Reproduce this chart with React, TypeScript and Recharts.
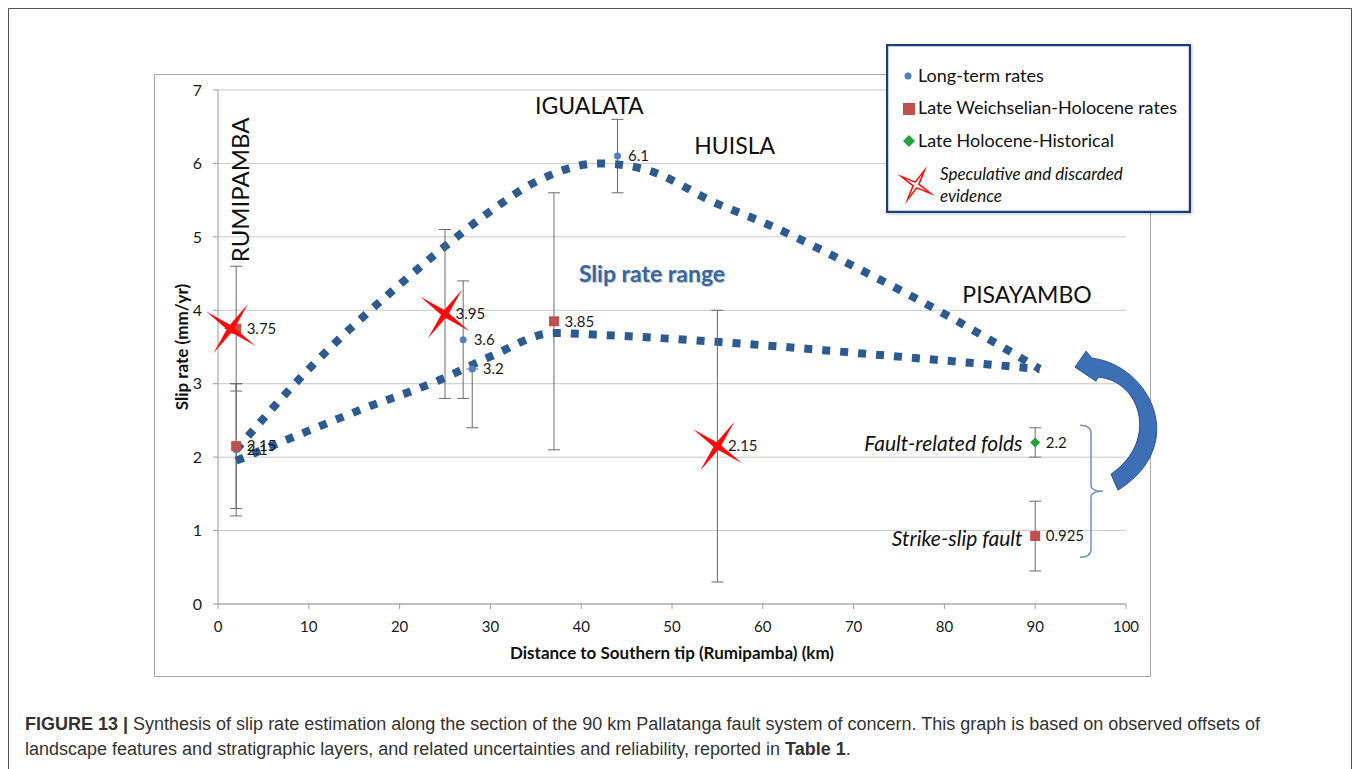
import React from 'react';
import {
  ComposedChart,
  Scatter,
  Line,
  XAxis,
  YAxis,
  CartesianGrid,
  ErrorBar,
  LabelList,
  ReferenceDot,
} from 'recharts';

// --- data --------------------------------------------------------------

const xTicks = [0, 10, 20, 30, 40, 50, 60, 70, 80, 90, 100];
const yTicks = [0, 1, 2, 3, 4, 5, 6, 7];

// Long-term rates (blue dots)
const longTermX = [2, 27, 28, 44];
const longTermY = [2.1, 3.6, 3.2, 6.1];
const longTermErr = [[0.9, 0.9], [0.8, 0.8], [0.8, 0], [0.5, 0.5]];
const longTermLabels = ['2.1', '3.6', '3.2', '6.1'];

// Late Weichselian-Holocene rates (red squares)
const weichselX = [2, 2, 37, 90];
const weichselY = [3.75, 2.15, 3.85, 0.925];
const weichselErr = [[0.85, 0.85], [0.85, 0.85], [1.75, 1.75], [0.475, 0.475]];
const weichselLabels = ['3.75', '2.15', '3.85', '0.925'];

// Late Holocene-Historical (green diamond)
const holoceneX = [90];
const holoceneY = [2.2];
const holoceneErr = [[0.2, 0.2]];
const holoceneLabels = ['2.2'];

// Speculative and discarded evidence (red stars)
const speculativeX = [1.4, 25, 55];
const speculativeY = [3.75, 3.95, 2.15];
const speculativeErr = [[0, 0], [1.15, 1.15], [1.85, 1.85]];
const speculativeLabels = ['', '3.95', '2.15'];

// Slip rate range envelope (dotted curves)
const upperX = [2, 10, 20, 25, 30, 35, 42, 47, 55, 60, 70, 80, 90.5];
const upperY = [2.1, 3.2, 4.35, 4.87, 5.35, 5.75, 6.0, 5.92, 5.45, 5.2, 4.6, 3.95, 3.2];
const lowerX = [2, 9.4, 15.6, 24.4, 30, 37, 43, 55, 73, 90.5];
const lowerY = [1.95, 2.33, 2.64, 3.05, 3.37, 3.69, 3.66, 3.57, 3.39, 3.2];

const toRows = (xs: number[], ys: number[], errs?: number[][], labels?: string[]) =>
  xs.map((x, i) => ({ x, y: ys[i], err: errs ? errs[i] : undefined, label: labels ? labels[i] : '' }));

const longTermRows = toRows(longTermX, longTermY, longTermErr, longTermLabels);
const weichselRows = toRows(weichselX, weichselY, weichselErr, weichselLabels);
const holoceneRows = toRows(holoceneX, holoceneY, holoceneErr, holoceneLabels);
const speculativeRows = toRows(speculativeX, speculativeY, speculativeErr, speculativeLabels);
const upperRows = toRows(upperX, upperY);
const lowerRows = toRows(lowerX, lowerY);

// --- styling -------------------------------------------------------------

const FONT = 'Lato, "Open Sans", sans-serif';
const CURVE = '#2d5b91';
const BLUE = '#4f81bd';
const RED = '#c0504d';
const GREEN = '#1fa33a';
const ERR = '#6b6b6b';

const labelStyle = { fontSize: 15, fill: '#1a1a1a', fontFamily: FONT };

const starPoints = (cx: number, cy: number, R: number, r: number, rot: number) => {
  const pts: string[] = [];
  for (let i = 0; i < 8; i++) {
    const a = ((rot + i * 45) * Math.PI) / 180;
    const rad = i % 2 === 0 ? R : r;
    pts.push(`${cx + rad * Math.cos(a)},${cy + rad * Math.sin(a)}`);
  }
  return pts.join(' ');
};

const Circle = (p: any) => <circle cx={p.cx} cy={p.cy} r={3.5} fill={BLUE} />;
const Square = (p: any) => <rect x={p.cx - 5} y={p.cy - 5} width={10} height={10} fill={RED} />;
const Diamond = (p: any) => (
  <polygon points={`${p.cx},${p.cy - 5} ${p.cx + 5},${p.cy} ${p.cx},${p.cy + 5} ${p.cx - 5},${p.cy}`} fill={GREEN} />
);
const Star = (p: any) => <polygon points={starPoints(p.cx, p.cy, 30, 4, 35)} fill="#ff0a0a" />;

const note = (text: string, style: React.CSSProperties, anchor = 'middle', rotate = 0) => (p: any) => (
  <text
    x={p.cx}
    y={p.cy}
    textAnchor={anchor as any}
    dominantBaseline="central"
    transform={rotate ? `rotate(${rotate} ${p.cx} ${p.cy})` : undefined}
    style={{ fontFamily: FONT, fill: '#111', ...style }}
  >
    {text}
  </text>
);

const Arrow = (p: any) => (
  <g transform={`translate(${p.cx} ${p.cy})`}>
    <path
      d="M -51 -90 L -40 -106 L -34 -99 C 24 -92 64 -12 -8 33 L -15 17 C 34 -17 14 -77 -28 -80 L -30 -76 Z"
      fill="#3d6fb6"
      stroke="#2a528c"
      strokeWidth={1}
    />
  </g>
);

const Brace = (p: any) => (
  <g transform={`translate(${p.cx} ${p.cy})`}>
    <path
      d="M -46 -32 Q -35 -32 -35 -24 L -35 28 Q -35 34 -23 34 Q -35 34 -35 40 L -35 92 Q -35 100 -46 100"
      fill="none"
      stroke="#6d93c9"
      strokeWidth={1.5}
    />
  </g>
);

const Legend = () => (
  <svg
    width={305}
    height={169}
    style={{ position: 'absolute', left: 886, top: 44, background: '#fff', boxShadow: '1px 1px 3px rgba(0,0,0,0.25)' }}
  >
    <rect x={1} y={1} width={303} height={167} fill="#fff" stroke="#1f3d7a" strokeWidth={2.5} />
    <g style={{ fontFamily: FONT, fontSize: 18, fill: '#111' }}>
      <circle cx={22} cy={32} r={3.5} fill={BLUE} />
      <text x={32} y={38}>Long-term rates</text>
      <rect x={17} y={59} width={12} height={12} fill={RED} />
      <text x={32} y={70}>Late Weichselian-Holocene rates</text>
      <polygon points="23,91 29,97 23,103 17,97" fill={GREEN} />
      <text x={32} y={103}>Late Holocene-Historical</text>
      <polygon points={starPoints(30, 141, 22, 4, 30)} fill="#ff0a0a" />
      <polygon points={starPoints(30, 141, 12, 2, 30)} fill="#fff" />
      <text x={54} y={136} fontStyle="italic" style={{ fontSize: 17 }}>Speculative and discarded</text>
      <text x={54} y={158} fontStyle="italic" style={{ fontSize: 17 }}>evidence</text>
    </g>
  </svg>
);

export default function App() {
  return (
    <div style={{ position: 'absolute', left: 0, top: 0, width: 1357, height: 769, background: '#fff', overflow: 'hidden' }}>
      <div
        style={{ position: 'absolute', left: 8, top: 8, width: 1344, height: 800, border: '1px solid #555', boxSizing: 'border-box' }}
      />
      <div
        style={{ position: 'absolute', left: 154, top: 74, width: 997, height: 603, border: '1px solid #a8a8a8', boxSizing: 'border-box' }}
      />
      <div style={{ position: 'absolute', left: 154, top: 74 }}>
        <ComposedChart width={1030} height={602} margin={{ top: 16, right: 58, bottom: 0, left: 0 }}>
          <CartesianGrid vertical={false} stroke="#c9c9c9" />
          <XAxis
            type="number"
            dataKey="x"
            domain={[0, 100]}
            ticks={xTicks}
            height={72}
            tickSize={5}
            tickMargin={12}
            stroke="#9a9a9a"
            tick={{ fill: '#1a1a1a', fontSize: 15, fontFamily: FONT }}
            label={{
              value: 'Distance to Southern tip (Rumipamba) (km)',
              position: 'insideBottom',
              offset: 17,
              style: { fontSize: 17, fontWeight: 700, fill: '#111', fontFamily: FONT },
            }}
          />
          <YAxis
            type="number"
            domain={[0, 7]}
            ticks={yTicks}
            width={64}
            tickSize={5}
            tickMargin={11}
            stroke="#9a9a9a"
            tick={{ fill: '#1a1a1a', fontSize: 16, fontFamily: FONT }}
            label={{
              value: 'Slip rate (mm/yr)',
              angle: -90,
              position: 'insideLeft',
              offset: 28,
              style: { textAnchor: 'middle', fontSize: 17, fontWeight: 700, fill: '#111', fontFamily: FONT },
            }}
          />

          <Scatter data={longTermRows} dataKey="y" shape={Circle} isAnimationActive={false}>
            <ErrorBar dataKey="err" direction="y" width={6} stroke={ERR} strokeWidth={1} />
            <LabelList dataKey="label" position="right" offset={6} style={labelStyle} />
          </Scatter>
          <Scatter data={weichselRows} dataKey="y" shape={Square} isAnimationActive={false}>
            <ErrorBar dataKey="err" direction="y" width={6} stroke={ERR} strokeWidth={1} />
            <LabelList dataKey="label" position="right" offset={6} style={labelStyle} />
          </Scatter>
          <Scatter data={holoceneRows} dataKey="y" shape={Diamond} isAnimationActive={false}>
            <ErrorBar dataKey="err" direction="y" width={6} stroke={ERR} strokeWidth={1} />
            <LabelList dataKey="label" position="right" offset={6} style={labelStyle} />
          </Scatter>

          <Line
            data={upperRows}
            dataKey="y"
            type="monotone"
            stroke={CURVE}
            strokeWidth={8}
            strokeDasharray="8 10"
            dot={false}
            activeDot={false}
            isAnimationActive={false}
          />
          <Line
            data={lowerRows}
            dataKey="y"
            type="monotone"
            stroke={CURVE}
            strokeWidth={8}
            strokeDasharray="8 10"
            dot={false}
            activeDot={false}
            isAnimationActive={false}
          />

          <Scatter data={speculativeRows} dataKey="y" shape={Star} isAnimationActive={false}>
            <ErrorBar dataKey="err" direction="y" width={6} stroke={ERR} strokeWidth={1} />
            <LabelList dataKey="label" position="right" offset={6} style={labelStyle} />
          </Scatter>

          <ReferenceDot x={2.4} y={5.64} r={0} ifOverflow="visible" shape={note('RUMIPAMBA', { fontSize: 24 }, 'middle', -90)} />
          <ReferenceDot x={40.9} y={6.79} r={0} ifOverflow="visible" shape={note('IGUALATA', { fontSize: 23 })} />
          <ReferenceDot x={56.9} y={6.255} r={0} ifOverflow="visible" shape={note('HUISLA', { fontSize: 23 })} />
          <ReferenceDot x={89.1} y={4.22} r={0} ifOverflow="visible" shape={note('PISAYAMBO', { fontSize: 23 })} />
          <ReferenceDot
            x={47.9}
            y={4.49}
            r={0}
            ifOverflow="visible"
            shape={note('Slip rate range', { fontSize: 23, fontWeight: 700, fill: '#b9c6d8' })}
          />
          <ReferenceDot
            x={47.8}
            y={4.51}
            r={0}
            ifOverflow="visible"
            shape={note('Slip rate range', { fontSize: 23, fontWeight: 700, fill: '#3a66a0' })}
          />
          <ReferenceDot
            x={88.6}
            y={2.2}
            r={0}
            ifOverflow="visible"
            shape={note('Fault-related folds', { fontSize: 21, fontStyle: 'italic' }, 'end')}
          />
          <ReferenceDot
            x={88.6}
            y={0.9}
            r={0}
            ifOverflow="visible"
            shape={note('Strike-slip fault', { fontSize: 21, fontStyle: 'italic' }, 'end')}
          />
          <ReferenceDot x={100} y={2} r={0} ifOverflow="visible" shape={Brace} />
          <ReferenceDot x={100} y={2} r={0} ifOverflow="visible" shape={Arrow} />
        </ComposedChart>
      </div>

      <Legend />

      <div
        style={{
          position: 'absolute',
          left: 25,
          top: 712,
          width: 1320,
          fontFamily: '"Liberation Sans", Arial, sans-serif',
          fontSize: 18,
          lineHeight: '25px',
          color: '#333',
          whiteSpace: 'nowrap',
        }}
      >
        <b>FIGURE 13 |</b> Synthesis of slip rate estimation along the section of the 90 km Pallatanga fault system of concern. This
        graph is based on observed offsets of
        <br />
        landscape features and stratigraphic layers, and related uncertainties and reliability, reported in <b>Table 1</b>.
      </div>
    </div>
  );
}
